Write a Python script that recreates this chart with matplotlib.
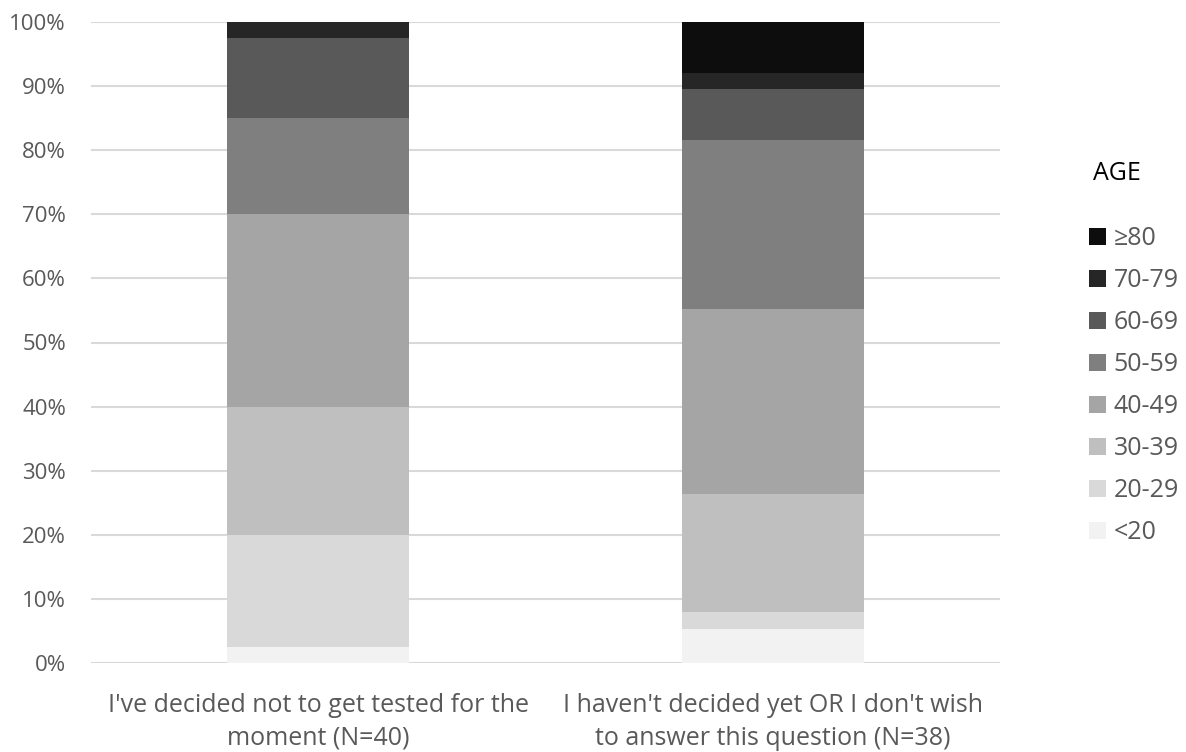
import matplotlib.pyplot as plt
from matplotlib.patches import Patch
from matplotlib.ticker import PercentFormatter

categories = [
    "I've decided not to get tested for the\nmoment (N=40)",
    "I haven't decided yet OR I don't wish\nto answer this question (N=38)",
]
age_groups = ["<20", "20-29", "30-39", "40-49", "50-59", "60-69", "70-79", "\u226580"]
# respondent counts per age group for each answer
counts = {
    "<20":   [1, 2],
    "20-29": [7, 1],
    "30-39": [8, 7],
    "40-49": [12, 11],
    "50-59": [6, 10],
    "60-69": [5, 3],
    "70-79": [1, 1],
    "\u226580":   [0, 3],
}
totals = [40, 38]
colors = ["#f2f2f2", "#d9d9d9", "#bfbfbf", "#a5a5a5", "#7f7f7f", "#595959", "#262626", "#0d0d0d"]

plt.rcParams['font.family'] = ['Open Sans', 'DejaVu Sans']

fig = plt.figure(figsize=(11.86, 7.52), dpi=100)
ax = fig.add_axes([91 / 1186, 1 - 663 / 752, (1000 - 91) / 1186, (663 - 22) / 752])

x = range(len(categories))
bottom = [0.0, 0.0]
handles = []
for grp, col in zip(age_groups, colors):
    share = [c / t * 100 for c, t in zip(counts[grp], totals)]
    ax.bar(x, share, width=0.4, bottom=bottom, color=col, edgecolor='none', zorder=3)
    bottom = [b + s for b, s in zip(bottom, share)]
    handles.append(Patch(facecolor=col, edgecolor='none', label=grp))

ax.set_xlim(-0.5, 1.5)
ax.set_ylim(0, 100)
ax.set_yticks(range(0, 101, 10))
ax.yaxis.set_major_formatter(PercentFormatter(decimals=0))
ax.set_xticks(list(x))
ax.set_xticklabels(categories, fontsize=18, color='#595959', linespacing=1.42)
ax.tick_params(axis='y', labelsize=16, labelcolor='#595959', length=0, pad=18)
ax.tick_params(axis='x', length=0, pad=21.5)
ax.grid(axis='y', color='#d9d9d9', linewidth=1.5, zorder=0)
for s in ax.spines.values():
    s.set_visible(False)

fig.text(1093 / 1186, 1 - 173 / 752, "AGE", fontsize=18, color='black', va='center', ha='left')
leg = fig.legend(handles=handles[::-1], loc='upper left',
                 bbox_to_anchor=(1089 / 1186, 1 - 226 / 752),
                 frameon=False, fontsize=18, labelcolor='#595959',
                 handlelength=0.68, handleheight=0.68, handletextpad=0.3,
                 labelspacing=0.68, borderaxespad=0, borderpad=0)

fig.savefig("out.png", dpi=100)
